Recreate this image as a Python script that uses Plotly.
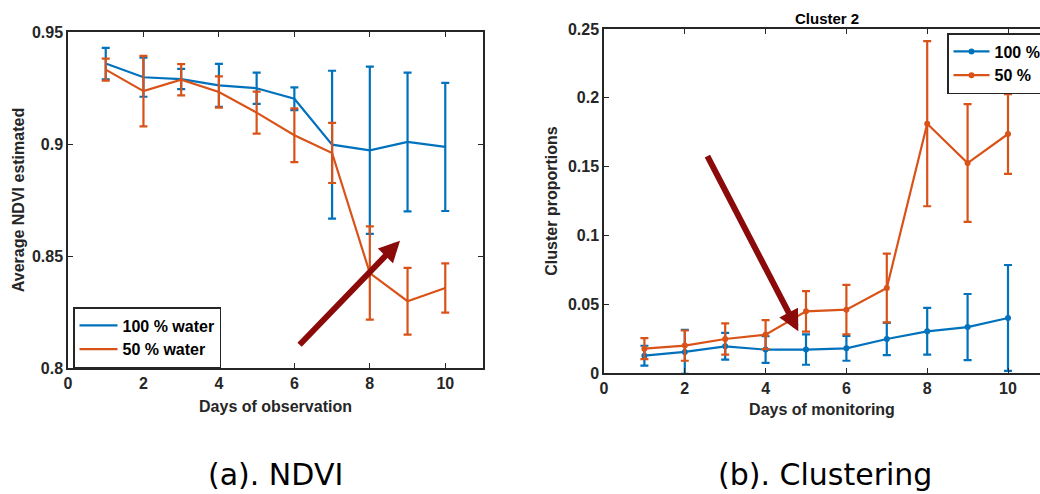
import plotly.graph_objects as go

# ---- data ----
days = [1, 2, 3, 4, 5, 6, 7, 8, 9, 10]

ndvi_full = [0.9359, 0.9298, 0.9290, 0.9262, 0.9249, 0.9202, 0.8997, 0.8972, 0.9009, 0.8987]
ndvi_full_err = [0.0070, 0.0087, 0.0045, 0.0096, 0.0070, 0.0051, 0.0330, 0.0373, 0.0310, 0.0286]
ndvi_half = [0.9332, 0.9236, 0.9287, 0.9232, 0.9140, 0.9039, 0.8960, 0.8424, 0.8298, 0.8357]
ndvi_half_err = [0.0049, 0.0157, 0.0070, 0.0070, 0.0094, 0.0120, 0.0134, 0.0208, 0.0149, 0.0110]

clus_full = [0.0126, 0.0153, 0.0194, 0.0170, 0.0170, 0.0179, 0.0247, 0.0303, 0.0334, 0.0400]
clus_full_err = [0.0072, 0.0160, 0.0097, 0.0097, 0.0110, 0.0090, 0.0117, 0.0170, 0.0240, 0.0385]
clus_half = [0.0177, 0.0199, 0.0247, 0.0279, 0.0448, 0.0460, 0.0618, 0.1812, 0.1526, 0.1737]
clus_half_err = [0.0076, 0.0110, 0.0113, 0.0105, 0.0147, 0.0180, 0.0250, 0.0600, 0.0428, 0.0290]

ndvi_names = ["100 % water", "50 % water"]
clus_names = ["100 %", "50 %"]
x_ticks = [0, 2, 4, 6, 8, 10]
ndvi_ticks = [0.8, 0.85, 0.9, 0.95]
clus_ticks = [0, 0.05, 0.1, 0.15, 0.2, 0.25]

BLUE = "#0072BD"
ORANGE = "#D95319"
AXIS = "#262626"
ARROW = "#8B0A0A"
FONT = "Liberation Sans"

fig = go.Figure()


def add_series(y, err, name, color, xa, ya, legend, markers):
    fig.add_trace(go.Scatter(
        x=days, y=y, name=name, xaxis=xa, yaxis=ya, legend=legend,
        mode="lines+markers" if markers else "lines",
        line=dict(color=color, width=2.2),
        marker=dict(color=color, size=6),
        error_y=dict(type="data", array=err, visible=True,
                     color=color, thickness=2.2, width=4),
    ))


add_series(ndvi_full, ndvi_full_err, ndvi_names[0], BLUE, "x", "y", "legend", False)
add_series(ndvi_half, ndvi_half_err, ndvi_names[1], ORANGE, "x", "y", "legend", False)
add_series(clus_full, clus_full_err, clus_names[0], BLUE, "x2", "y2", "legend2", True)
add_series(clus_half, clus_half_err, clus_names[1], ORANGE, "x2", "y2", "legend2", True)

W, H = 1040, 494


def px_x(p):
    return p / W


def px_y(p):
    return 1 - p / H


axis_common = dict(
    showgrid=False, zeroline=False, showline=True, linecolor=AXIS, linewidth=1.5,
    ticks="inside", ticklen=5, tickwidth=1.2, tickcolor=AXIS,
    tickfont=dict(family=FONT, size=16, color=AXIS, weight="bold"),
)
title_font = dict(family=FONT, size=16, color=AXIS, weight="bold")
legend_font = dict(family=FONT, size=16, color="black", weight="bold")

fig.update_layout(
    width=W, height=H,
    margin=dict(l=0, r=0, t=0, b=0, autoexpand=False),
    paper_bgcolor="white", plot_bgcolor="white",
    showlegend=True,
    xaxis=dict(axis_common, domain=[px_x(68), px_x(483)], range=[0, 11],
               tickvals=x_ticks, mirror="ticks", anchor="y",
               title=dict(text="Days of observation", font=title_font, standoff=10)),
    yaxis=dict(axis_common, domain=[px_y(368), px_y(32)], range=[0.8, 0.95],
               tickvals=ndvi_ticks, mirror="ticks", anchor="x",
               title=dict(text="Average NDVI estimated", font=title_font, standoff=3)),
    xaxis2=dict(axis_common, domain=[px_x(604), 1.0], range=[0, (W - 604) / 40.4],
                tickvals=x_ticks, mirror="ticks", anchor="y2",
                title=dict(text="Days of monitoring", font=title_font, standoff=8)),
    yaxis2=dict(axis_common, domain=[px_y(373), px_y(29)], range=[0, 0.25],
                tickvals=clus_ticks, anchor="x2",
                title=dict(text="Cluster proportions", font=title_font, standoff=6)),
    legend=dict(x=px_x(73), y=px_y(307), xanchor="left", yanchor="top",
                bordercolor=AXIS, borderwidth=1.5, bgcolor="white",
                font=legend_font, tracegroupgap=0, itemwidth=38),
    legend2=dict(x=px_x(947), y=px_y(33), xanchor="left", yanchor="top",
                 bordercolor=AXIS, borderwidth=1.5, bgcolor="white",
                 font=legend_font, tracegroupgap=0, itemwidth=36),
    annotations=[
        # panel title
        dict(text="Cluster 2", xref="paper", yref="paper", x=px_x(827), y=px_y(18),
             xanchor="center", yanchor="middle", showarrow=False,
             font=dict(family=FONT, size=15, color="black", weight="bold")),
        # arrows
        dict(x=8.8, y=0.8568, ax=6.1, ay=0.8097, xref="x", yref="y", axref="x", ayref="y",
             text="", showarrow=True, arrowhead=2, arrowsize=0.7, arrowwidth=6,
             arrowcolor=ARROW),
        dict(x=4.81, y=0.0303, ax=2.54, ay=0.1587, xref="x2", yref="y2", axref="x2", ayref="y2",
             text="", showarrow=True, arrowhead=2, arrowsize=0.7, arrowwidth=6,
             arrowcolor=ARROW),
        # captions
        dict(text="(a). NDVI", xref="paper", yref="paper", x=px_x(275), y=px_y(474),
             xanchor="center", yanchor="middle", showarrow=False,
             font=dict(family="DejaVu Sans", size=30, color="black")),
        dict(text="(b). Clustering", xref="paper", yref="paper", x=px_x(825), y=px_y(474),
             xanchor="center", yanchor="middle", showarrow=False,
             font=dict(family="DejaVu Sans", size=30, color="black")),
    ],
)

fig.write_html("out.html")
